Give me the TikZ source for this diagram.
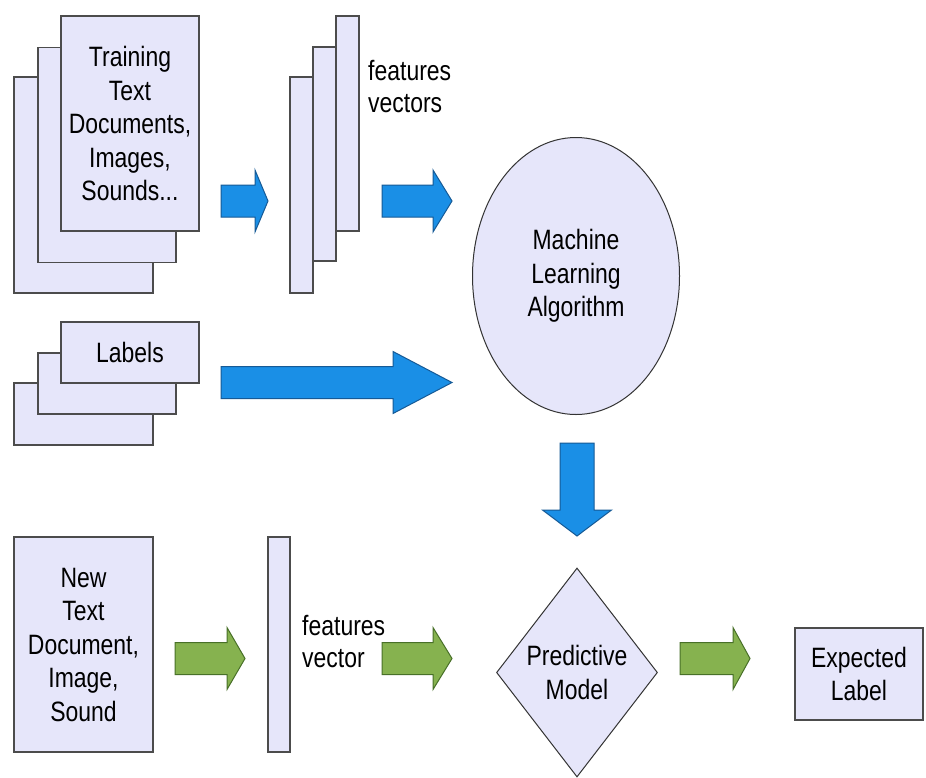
\documentclass[tikz,border=0pt]{standalone}
\usepackage{fontspec}
\setmainfont[FakeStretch=0.82]{Liberation Sans}
\usetikzlibrary{shapes.geometric}

\definecolor{lavfill}{RGB}{230,230,250}
\definecolor{arrblue}{RGB}{26,143,230}
\definecolor{arrblueline}{RGB}{22,90,150}
\definecolor{arrgreen}{RGB}{134,178,79}
\definecolor{arrgreenline}{RGB}{72,112,40}

\tikzset{
  page/.style={draw=black!70, fill=lavfill, line width=1.4pt, inner sep=0pt,
    align=center, font=\fontsize{28}{33.5}\selectfont},
  bluearr/.style={fill=arrblue, draw=arrblueline, line width=1pt, line join=miter},
  greenarr/.style={fill=arrgreen, draw=arrgreenline, line width=1pt, line join=miter},
  caption/.style={inner sep=0pt, align=left, font=\fontsize{28}{32.5}\selectfont}
}

% fat arrow pointing right: style, x from, x to, y middle, head length
\newcommand{\rarrow}[5]{%
  \draw[#1] (#2,#4-16) -- (#3-#5,#4-16) -- (#3-#5,#4-31) -- (#3,#4)
    -- (#3-#5,#4+31) -- (#3-#5,#4+16) -- (#2,#4+16) -- cycle;}
% fat arrow pointing down: style, x middle, y from, y to, head length
\newcommand{\darrow}[5]{%
  \draw[#1] (#2-17,#3) -- (#2-17,#4-#5) -- (#2-34.5,#4-#5) -- (#2,#4)
    -- (#2+34.5,#4-#5) -- (#2+17,#4-#5) -- (#2+17,#3) -- cycle;}

\begin{document}
\begin{tikzpicture}[x=1pt,y=-1pt]

\useasboundingbox[fill=white] (0,0) rectangle (926,777);

%training documents (three sheets)
\node[page, minimum width=139pt, minimum height=216pt] (train3) at (83.5,185) {};
\node[page, minimum width=138pt, minimum height=215pt] (train2) at (107,155) {};
\node[page, minimum width=138pt, minimum height=215pt] (train1) at (130,123.5)
  {Training\\Text\\Documents,\\Images,\\Sounds...};

%feature vectors (three strips)
\node[page, minimum width=23pt, minimum height=216pt] (vec3) at (301.5,185) {};
\node[page, minimum width=23pt, minimum height=214pt] (vec2) at (324.5,154) {};
\node[page, minimum width=23pt, minimum height=215pt] (vec1) at (347.5,123.5) {};
\node[caption, anchor=north west] (vectxt) at (368,60) {features\\vectors};

%labels (three sheets)
\node[page, minimum width=139pt, minimum height=62pt] (lab3) at (83.5,414) {};
\node[page, minimum width=138pt, minimum height=61pt] (lab2) at (107,383.5) {};
\node[page, minimum width=138pt, minimum height=61pt] (lab1) at (130,352.5) {Labels};

%learning algorithm
\node[page, ellipse, draw=black!80, line width=1pt, minimum width=207pt,
  minimum height=277pt] (algo) at (576,276) {Machine\\Learning\\Algorithm};

%new sample
\node[page, minimum width=139pt, minimum height=215pt] (newdoc) at (83.5,644.5)
  {New\\Text\\Document,\\Image,\\Sound};
\node[page, minimum width=22pt, minimum height=215pt] (newvec) at (279,644.5) {};
\node[caption, anchor=north west] (newtxt) at (302,615) {features\\vector};

%model and result
\node[page, diamond, aspect=0.77, draw=black!80, line width=1pt, minimum width=161pt,
  minimum height=209pt] (model) at (577,672.5) {Predictive\\Model};
\node[page, minimum width=128pt, minimum height=92pt] (expect) at (859,674)
  {Expected\\Label};

%training flow (blue)
\rarrow{bluearr}{221}{268}{201}{13}
\rarrow{bluearr}{382}{452}{201}{19}
\rarrow{bluearr}{221}{452}{382.5}{59}
\darrow{bluearr}{577}{443}{536}{26}

%prediction flow (green)
\rarrow{greenarr}{175}{245}{658.5}{18}
\rarrow{greenarr}{382}{452}{658.5}{19}
\rarrow{greenarr}{680}{750}{658.5}{17}

\end{tikzpicture}
\end{document}
